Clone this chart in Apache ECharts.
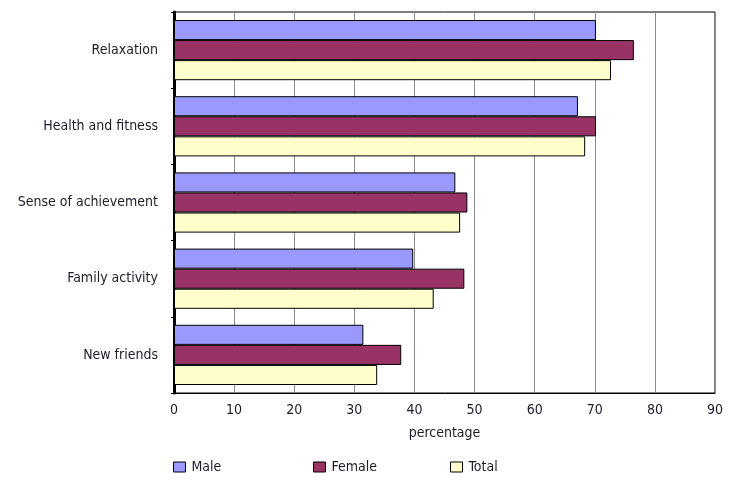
<!DOCTYPE html>
<html><head><meta charset="utf-8">
<script src="https://cdn.jsdelivr.net/npm/echarts@6/dist/echarts.min.js"></script>
<style>html,body{margin:0;padding:0;background:#fff}#c{width:751px;height:485px}</style>
</head><body><div id="c"></div>
<script>
const categories = ["Relaxation", "Health and fitness", "Sense of achievement", "Family activity", "New friends"];
const male = [70.2, 67.2, 46.8, 39.8, 31.5];
const female = [76.5, 70.2, 48.8, 48.3, 37.8];
const total = [72.7, 68.4, 47.6, 43.2, 33.8];
const xTicks = [0, 10, 20, 30, 40, 50, 60, 70, 80, 90];

const FONT = '"DejaVu Sans Condensed", "Liberation Sans", sans-serif';
const TXT = '#1c1c2c';
const chart = echarts.init(document.getElementById('c'));
function leg(name, left) {
  return {
    data: [name], left: left, top: 460, itemWidth: 12, itemHeight: 10, itemGap: 0,
    icon: 'rect', textStyle: { fontFamily: FONT, fontSize: 14, color: TXT, padding: [0, 0, 0, 1] },
    itemStyle: { borderColor: '#000', borderWidth: 1 }, selectedMode: false, padding: 0
  };
}
chart.setOption({
  animation: false,
  backgroundColor: '#fff',
  grid: { left: 174, right: 36, top: 12, bottom: 92, show: true, borderColor: '#000', borderWidth: 1, backgroundColor: 'transparent' },
  legend: [leg('Male', 173), leg('Female', 313), leg('Total', 450)],
  xAxis: {
    type: 'value', min: 0, max: 90, interval: 10,
    name: 'percentage', nameLocation: 'middle', nameGap: 33,
    nameTextStyle: { fontFamily: FONT, fontSize: 14, color: TXT },
    axisLabel: { fontFamily: FONT, fontSize: 14, color: TXT, margin: 10,
      formatter: v => xTicks.includes(v) ? String(v) : '' },
    axisLine: { show: true, lineStyle: { color: '#000', width: 1 } },
    axisTick: { show: false },
    splitLine: { show: true, lineStyle: { color: '#8c8c8c', width: 1 } }
  },
  yAxis: {
    type: 'category', data: categories, inverse: true,
    axisLabel: { fontFamily: FONT, fontSize: 14, color: TXT, margin: 16 },
    axisLine: { show: true, lineStyle: { color: '#000', width: 3 } },
    axisTick: { show: true, length: 3, lineStyle: { color: '#000', width: 1 } },
    splitLine: { show: false }
  },
  series: [
    { name: 'Male', type: 'bar', data: male, barGap: '0%', barCategoryGap: '21%',
      itemStyle: { color: '#9999FF', borderColor: '#000', borderWidth: 1 } },
    { name: 'Female', type: 'bar', data: female, barGap: '0%', barCategoryGap: '21%',
      itemStyle: { color: '#993366', borderColor: '#000', borderWidth: 1 } },
    { name: 'Total', type: 'bar', data: total, barGap: '0%', barCategoryGap: '21%',
      itemStyle: { color: '#FFFFCC', borderColor: '#000', borderWidth: 1 } }
  ]
});
</script></body></html>
